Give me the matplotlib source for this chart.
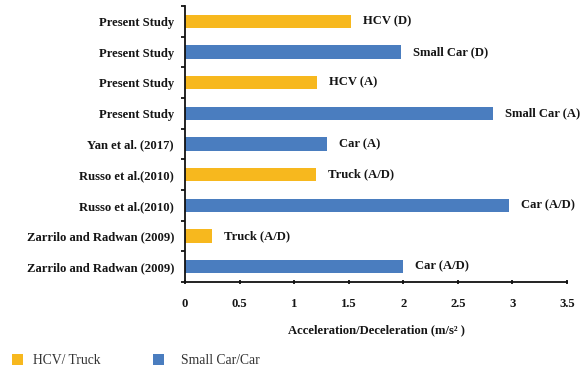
import matplotlib
matplotlib.use("Agg")
import matplotlib.pyplot as plt
from matplotlib.patches import Rectangle

# Studies listed from bottom to top
studies = ["Zarrilo and Radwan (2009)", "Zarrilo and Radwan (2009)",
           "Russo et al.(2010)", "Russo et al.(2010)", "Yan et al. (2017)",
           "Present Study", "Present Study", "Present Study", "Present Study"]
values = [2.0, 0.25, 2.97, 1.2, 1.3, 2.82, 1.21, 1.98, 1.52]
bar_labels = ["Car (A/D)", "Truck (A/D)", "Car (A/D)", "Truck (A/D)", "Car (A)",
              "Small Car (A)", "HCV (A)", "Small Car (D)", "HCV (D)"]
vehicle_class = ["car", "truck", "car", "truck", "car", "car", "truck", "car", "truck"]
x_ticks = [0, 0.5, 1, 1.5, 2, 2.5, 3, 3.5]
x_tick_labels = ["0", "0.5", "1", "1.5", "2", "2.5", "3", "3.5"]
legend_names = {"truck": "HCV/ Truck", "car": "Small Car/Car"}

colors = {"truck": "#F7B81E", "car": "#4A7DBF"}
serif = ["Liberation Serif", "DejaVu Serif"]
fs = 9.1

fig = plt.figure(figsize=(5.8, 3.71), dpi=100)
ax = fig.add_axes([185 / 580, 1 - 282 / 371, (567 - 185) / 580, (282 - 6) / 371])

ypos = list(range(len(values)))
ax.barh(ypos, values, height=0.43,
        color=[colors[c] for c in vehicle_class], edgecolor="none")

for y, v, lab in zip(ypos, values, bar_labels):
    ax.text(v + 0.11, y, lab, va="center", ha="left", fontsize=fs,
            fontweight="bold", family=serif, color="#151515")

ax.set_xlim(0, 3.5)
ax.set_ylim(-0.5, len(values) - 0.5)
ax.set_xticks(x_ticks)
ax.set_xticklabels(x_tick_labels, fontsize=fs, fontweight="bold", family=serif,
                   color="#151515")
ax.set_yticks(ypos)
ax.set_yticklabels(studies, fontsize=fs, fontweight="bold", family=serif,
                   color="#151515")
ax.set_yticks([y + 0.5 for y in ypos[:-1]] + [-0.5, len(values) - 0.5], minor=True)
ax.tick_params(axis="y", which="major", length=0, pad=8)
ax.tick_params(axis="y", which="minor", length=3, width=1.2, direction="out")
ax.tick_params(axis="x", which="major", length=3, width=1.2, direction="inout", pad=10)

for side in ["top", "right"]:
    ax.spines[side].set_visible(False)
for side in ["left", "bottom"]:
    ax.spines[side].set_linewidth(1.3)
    ax.spines[side].set_color("#111111")

ax.set_xlabel("Acceleration/Deceleration (m/s\u00b2 )", fontsize=fs,
              fontweight="bold", family=serif, labelpad=10, color="#151515")

# Legend drawn below the chart
for (key, sx, tx) in [("truck", 12, 33), ("car", 153, 181)]:
    fig.patches.append(Rectangle((sx / 580, 1 - 365 / 371), 11 / 580, 11 / 371,
                                 transform=fig.transFigure,
                                 facecolor=colors[key], edgecolor="none"))
    fig.text(tx / 580, 1 - 360 / 371, legend_names[key], fontsize=9.8,
             family=serif, va="center", ha="left", color="#333333")

fig.savefig("out.png", dpi=100)
